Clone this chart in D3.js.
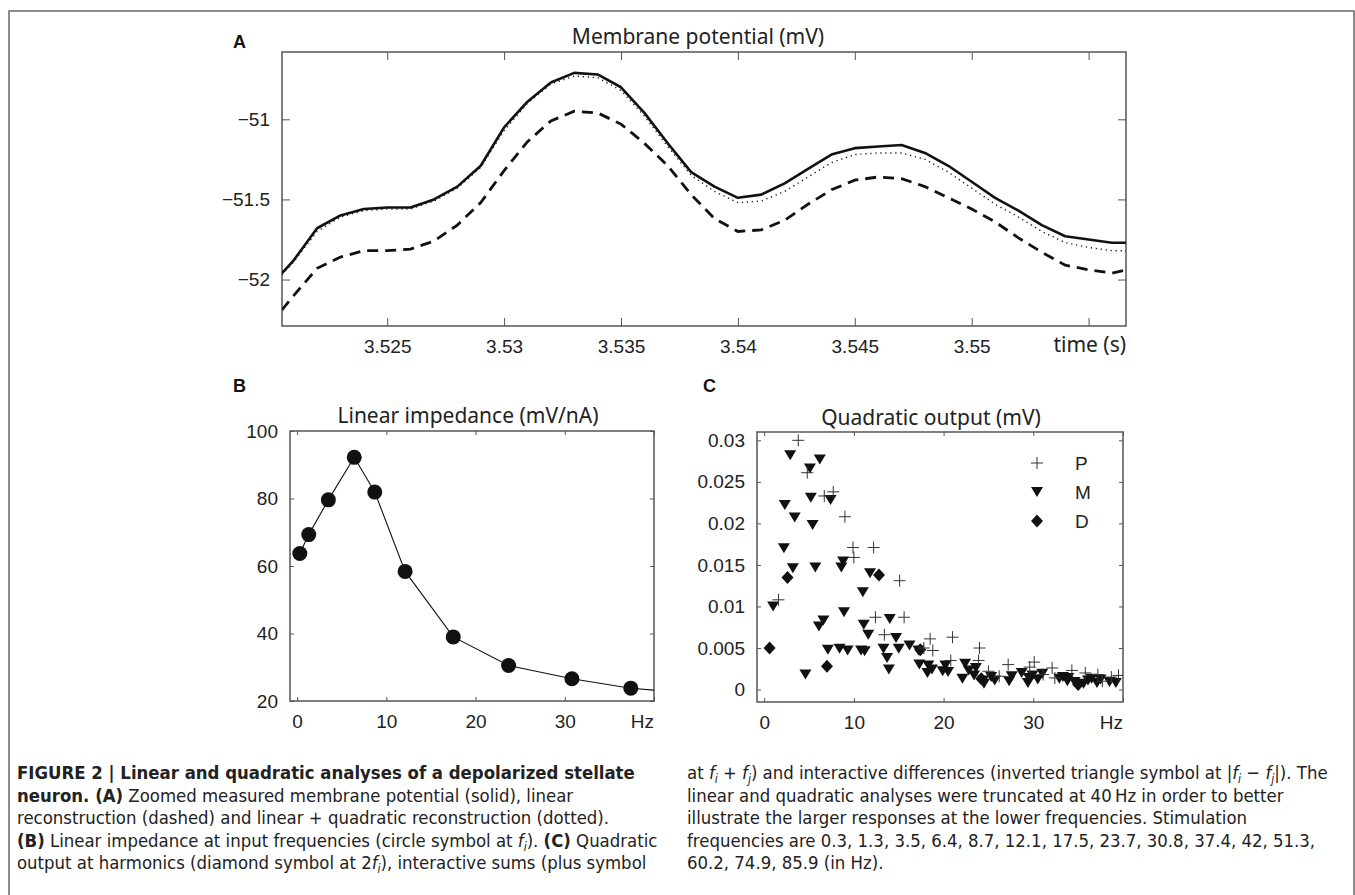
<!DOCTYPE html>
<html>
<head>
<meta charset="utf-8">
<script src="https://cdn.jsdelivr.net/npm/d3@7"></script>
<style>
  body { margin: 0; background: #fff; }
  .tick text { font-family: "Liberation Sans", Arial, sans-serif; font-size: 19px; fill: #222; }
  .tick line { stroke: #555; }
  .domain { display: none; }
  .ptitle { font-family: "Noto Sans", "Open Sans", sans-serif; font-size: 21px; fill: #222; }
  .letter { font-family: "Liberation Sans", Arial, sans-serif; font-size: 18px; font-weight: bold; fill: #111; }
  .cap { font-family: "Liberation Sans Narrow", "DejaVu Sans Condensed", sans-serif; font-stretch: condensed; font-size: 18.4px; fill: #222; }
</style>
</head>
<body>
<div id="chart"></div>
<script>
// Panel A: membrane potential traces (mV) against time (s)
var timeA = [3.5205, 3.521, 3.522, 3.523, 3.524, 3.525, 3.526, 3.527, 3.528, 3.529,
    3.530, 3.531, 3.532, 3.533, 3.534, 3.535, 3.536, 3.537, 3.538, 3.539,
    3.540, 3.541, 3.542, 3.543, 3.544, 3.545, 3.546, 3.547, 3.548, 3.549,
    3.550, 3.551, 3.552, 3.553, 3.554, 3.555, 3.556, 3.5566];
var measuredA = [-51.96, -51.88, -51.68, -51.60, -51.56, -51.55, -51.55, -51.50, -51.42, -51.29,
    -51.05, -50.89, -50.77, -50.71, -50.72, -50.80, -50.96, -51.15, -51.33, -51.42,
    -51.49, -51.47, -51.40, -51.31, -51.22, -51.18, -51.17, -51.16, -51.21, -51.29,
    -51.39, -51.49, -51.57, -51.66, -51.73, -51.75, -51.77, -51.77];
var linearA = [-52.19, -52.10, -51.93, -51.86, -51.82, -51.82, -51.81, -51.76, -51.66, -51.52,
    -51.32, -51.14, -51.01, -50.95, -50.96, -51.03, -51.15, -51.29, -51.47, -51.62,
    -51.70, -51.69, -51.63, -51.53, -51.44, -51.38, -51.36, -51.37, -51.42, -51.49,
    -51.56, -51.64, -51.74, -51.83, -51.91, -51.94, -51.96, -51.94];
var quadraticA = [-51.97, -51.89, -51.70, -51.61, -51.57, -51.56, -51.56, -51.51, -51.43, -51.30,
    -51.07, -50.90, -50.78, -50.73, -50.74, -50.82, -50.98, -51.17, -51.35, -51.45,
    -51.52, -51.51, -51.45, -51.36, -51.27, -51.22, -51.21, -51.21, -51.25, -51.33,
    -51.43, -51.53, -51.61, -51.70, -51.77, -51.80, -51.82, -51.82];
var xTicksA = [3.525, 3.53, 3.535, 3.54, 3.545, 3.55, 3.555];
var xLabelsA = ["3.525", "3.53", "3.535", "3.54", "3.545", "3.55", ""];
var yTicksA = [-52, -51.5, -51];
var yLabelsA = ["\u221252", "\u221251.5", "\u221251"];

// Panel B: linear impedance (mV/nA) at the input frequencies (Hz)
var freqB = [0.3, 1.3, 3.5, 6.4, 8.7, 12.1, 17.5, 23.7, 30.8, 37.4, 42];
var impedanceB = [63.7, 69.3, 79.6, 92.2, 81.9, 58.4, 39.0, 30.5, 26.6, 23.8, 22.8];
var yTicksB = [20, 40, 60, 80, 100];

// Panel C: quadratic output (mV); P = sums, M = differences, D = harmonics
var freqP = [1.6, 3.8, 4.8, 6.7, 7.7, 9.0, 9.9, 10.0, 12.2, 12.4, 13.4, 15.1, 15.6, 17.8, 18.5, 18.8,
    20.8, 21.0, 23.9, 24.0, 25.0, 26.2, 27.2, 29.6, 30.1, 31.1, 32.1, 32.4, 34.3, 35.8, 37.2, 37.7, 38.7, 39.5];
var valueP = [0.0108, 0.0300, 0.0261, 0.0233, 0.0238, 0.0208, 0.0171, 0.0159, 0.0171, 0.0087, 0.0066, 0.0131, 0.0087, 0.0050, 0.0061, 0.0047,
    0.0035, 0.0063, 0.0035, 0.0050, 0.0022, 0.0016, 0.0030, 0.0027, 0.0033, 0.0018, 0.0026, 0.0014, 0.0023, 0.0020, 0.0018, 0.0010, 0.0015, 0.0017];
var freqM = [1.0, 2.2, 2.3, 2.9, 3.2, 3.4, 4.6, 5.1, 5.2, 5.4, 5.7, 6.1, 6.2, 6.6, 7.1, 7.4, 8.4, 8.6, 8.8, 8.9,
    9.3, 10.8, 11.0, 11.1, 11.2, 11.6, 11.8, 13.3, 13.7, 13.9, 14.0, 14.7, 15.0, 16.2, 17.2, 17.3, 18.2, 18.3,
    18.7, 19.9, 20.2, 20.5, 22.1, 22.4, 22.8, 23.4, 23.6, 24.4, 24.5, 25.3, 25.7, 27.3, 27.6, 28.7, 29.4, 29.5,
    29.9, 30.5, 31.0, 32.9, 33.3, 33.8, 33.9, 34.6, 35.6, 36.1, 36.5, 37.1, 37.5, 38.5, 39.2];
var valueM = [0.0100, 0.0170, 0.0222, 0.0282, 0.0146, 0.0207, 0.0018, 0.0266, 0.0231, 0.0198, 0.0147, 0.0076, 0.0277, 0.0083, 0.0048, 0.0228, 0.0049, 0.0147, 0.0154, 0.0093,
    0.0047, 0.0047, 0.0117, 0.0078, 0.0046, 0.0066, 0.0140, 0.0049, 0.0038, 0.0024, 0.0085, 0.0062, 0.0049, 0.0053, 0.0047, 0.0030, 0.0020, 0.0029,
    0.0024, 0.0022, 0.0029, 0.0021, 0.0013, 0.0031, 0.0023, 0.0017, 0.0026, 0.0011, 0.0007, 0.0015, 0.0011, 0.0010, 0.0016, 0.0020, 0.0008, 0.0014,
    0.0017, 0.0012, 0.0019, 0.0013, 0.0015, 0.0010, 0.0014, 0.0009, 0.0007, 0.0011, 0.0013, 0.0008, 0.0012, 0.0009, 0.0008];
var freqD = [0.6, 2.6, 7.0, 12.8, 17.4, 24.2, 35.0];
var valueD = [0.0050, 0.0135, 0.0028, 0.0138, 0.0048, 0.0013, 0.0006];
var yTicksC = [0, 0.005, 0.01, 0.015, 0.02, 0.025, 0.03];
var yLabelsC = ["0", "0.005", "0.01", "0.015", "0.02", "0.025", "0.03"];
var xTicksBC = [0, 10, 20, 30, 40];
var xLabelsBC = ["0", "10", "20", "30", ""];
var legendC = ["P", "M", "D"];

var svg = d3.select("#chart")
    .append("svg")
    .attr("width", 1355)
    .attr("height", 895);

// outer frame of the figure
svg.append("rect")
    .attr("x", 9).attr("y", 11)
    .attr("width", 1345).attr("height", 900)
    .attr("fill", "none")
    .attr("stroke", "#666")
    .attr("stroke-width", 1.5);

function makeAxes(g, x, y, w, h, tickLen, xt, xl, yt, yl, id) {
    g.append("clipPath").attr("id", id)
        .append("rect").attr("width", w).attr("height", h);

    g.append("g").attr("class", "xbot").attr("transform", "translate(0," + h + ")")
        .call(d3.axisBottom(x).tickValues(xt).tickSize(-tickLen).tickPadding(14)
            .tickFormat(function(d, i) { return xl[i]; }));
    g.append("g")
        .call(d3.axisTop(x).tickValues(xt).tickSize(-tickLen).tickFormat(""));
    g.append("g")
        .call(d3.axisLeft(y).tickValues(yt).tickSize(-tickLen).tickPadding(12)
            .tickFormat(function(d, i) { return yl[i]; }));
    g.append("g").attr("transform", "translate(" + w + ",0)")
        .call(d3.axisRight(y).tickValues(yt).tickSize(-tickLen).tickFormat(""));

    g.append("rect")
        .attr("width", w).attr("height", h)
        .attr("fill", "none")
        .attr("stroke", "#555")
        .attr("stroke-width", 1.5);
}

// ---------- Panel A ----------
var wA = 844, hA = 274;
var gA = svg.append("g").attr("transform", "translate(282,52)");
var xA = d3.scaleLinear().domain([3.5205, 3.5566]).range([0, wA]);
var yA = d3.scaleLinear().domain([-52.29, -50.58]).range([hA, 0]);
makeAxes(gA, xA, yA, wA, hA, 8, xTicksA, xLabelsA, yTicksA, yLabelsA, "clipA");

var lineA = function(vals) {
    return d3.line()
        .x(function(d, i) { return xA(timeA[i]); })
        .y(function(d) { return yA(d); })(vals);
};
var tracesA = gA.append("g").attr("clip-path", "url(#clipA)");
tracesA.append("path").attr("d", lineA(quadraticA))
    .attr("fill", "none").attr("stroke", "#111")
    .attr("stroke-width", 1.4).attr("stroke-dasharray", "1.2,3.8");
tracesA.append("path").attr("d", lineA(linearA))
    .attr("fill", "none").attr("stroke", "#111")
    .attr("stroke-width", 2.8).attr("stroke-dasharray", "11,7");
tracesA.append("path").attr("d", lineA(measuredA))
    .attr("fill", "none").attr("stroke", "#111")
    .attr("stroke-width", 2.6).attr("stroke-linejoin", "round");

gA.append("text").attr("class", "ptitle")
    .attr("x", wA / 2 - 6).attr("y", -8)
    .attr("text-anchor", "middle")
    .text("Membrane potential (mV)");
gA.append("text").attr("class", "ptitle")
    .attr("x", wA).attr("y", hA + 26)
    .attr("text-anchor", "end")
    .text("time (s)");
svg.append("text").attr("class", "letter").attr("x", 233).attr("y", 48).text("A");

// ---------- Panel B ----------
var wB = 364, hB = 270;
var gB = svg.append("g").attr("transform", "translate(290,431)");
var xB = d3.scaleLinear().domain([-0.8, 40]).range([0, wB]);
var yB = d3.scaleLinear().domain([20, 100]).range([hB, 0]);
makeAxes(gB, xB, yB, wB, hB, 4, xTicksBC, xLabelsBC, yTicksB, yTicksB, "clipB");

var plotB = gB.append("g").attr("clip-path", "url(#clipB)");
plotB.append("path")
    .attr("d", d3.line()
        .x(function(d, i) { return xB(freqB[i]); })
        .y(function(d) { return yB(d); })(impedanceB))
    .attr("fill", "none").attr("stroke", "#111").attr("stroke-width", 1.1);
plotB.selectAll(".dot")
    .data(impedanceB)
    .enter().append("circle")
    .attr("class", "dot")
    .attr("cx", function(d, i) { return xB(freqB[i]); })
    .attr("cy", function(d) { return yB(d); })
    .attr("r", 7.5)
    .attr("fill", "#111");

gB.append("text").attr("class", "ptitle")
    .attr("x", wB / 2 - 4).attr("y", -8)
    .attr("text-anchor", "middle")
    .text("Linear impedance (mV/nA)");
gB.select(".xbot").append("text")
    .attr("x", wB).attr("y", 14).attr("dy", "0.71em")
    .attr("text-anchor", "end")
    .style("font-family", "Liberation Sans, Arial, sans-serif")
    .style("font-size", "19px").attr("fill", "#222")
    .text("Hz");
svg.append("text").attr("class", "letter").attr("x", 233).attr("y", 392).text("B");

// ---------- Panel C ----------
var wC = 366, hC = 270;
var gC = svg.append("g").attr("transform", "translate(757,432)");
var xC = d3.scaleLinear().domain([-0.8, 40]).range([0, wC]);
var yC = d3.scaleLinear().domain([-0.0015, 0.031]).range([hC, 0]);
makeAxes(gC, xC, yC, wC, hC, 4, xTicksBC, xLabelsBC, yTicksC, yLabelsC, "clipC");

var plusPath = "M-6,0H6M0,-6V6";
var triPath = "M-6,-5L6,-5L0,5Z";
var diaPath = "M0,-6.5L6,0L0,6.5L-6,0Z";

var plotC = gC.append("g").attr("clip-path", "url(#clipC)");
plotC.selectAll(".tri")
    .data(valueM)
    .enter().append("path")
    .attr("class", "tri")
    .attr("d", triPath)
    .attr("transform", function(d, i) { return "translate(" + xC(freqM[i]) + "," + yC(d) + ")"; })
    .attr("fill", "#111");
plotC.selectAll(".dia")
    .data(valueD)
    .enter().append("path")
    .attr("class", "dia")
    .attr("d", diaPath)
    .attr("transform", function(d, i) { return "translate(" + xC(freqD[i]) + "," + yC(d) + ")"; })
    .attr("fill", "#111");
plotC.selectAll(".plus")
    .data(valueP)
    .enter().append("path")
    .attr("class", "plus")
    .attr("d", plusPath)
    .attr("transform", function(d, i) { return "translate(" + xC(freqP[i]) + "," + yC(d) + ")"; })
    .attr("fill", "none").attr("stroke", "#333").attr("stroke-width", 1);

// legend
var legendPaths = [plusPath, triPath, diaPath];
var legend = gC.selectAll(".leg")
    .data(legendC)
    .enter().append("g")
    .attr("class", "leg")
    .attr("transform", function(d, i) { return "translate(280," + (31 + i * 29) + ")"; });
legend.append("path")
    .attr("d", function(d, i) { return legendPaths[i]; })
    .attr("fill", function(d, i) { return i == 0 ? "none" : "#111"; })
    .attr("stroke", function(d, i) { return i == 0 ? "#333" : "none"; });
legend.append("text")
    .attr("x", 38).attr("y", 7)
    .style("font-family", "Liberation Sans, Arial, sans-serif")
    .style("font-size", "19px").attr("fill", "#222")
    .text(function(d) { return d; });

gC.append("text").attr("class", "ptitle")
    .attr("x", wC / 2 - 9).attr("y", -7)
    .attr("text-anchor", "middle")
    .text("Quadratic output (mV)");
gC.select(".xbot").append("text")
    .attr("x", wC).attr("y", 14).attr("dy", "0.71em")
    .attr("text-anchor", "end")
    .style("font-family", "Liberation Sans, Arial, sans-serif")
    .style("font-size", "19px").attr("fill", "#222")
    .text("Hz");
svg.append("text").attr("class", "letter").attr("x", 703).attr("y", 392).text("C");

// ---------- caption ----------
// segments: [text, style] with b = bold, i = italic, s = subscript
var capLeft = [
    [["FIGURE 2 | Linear and quadratic analyses of a depolarized stellate", "b"]],
    [["neuron. (A)", "b"], [" Zoomed measured membrane potential (solid), linear", ""]],
    [["reconstruction (dashed) and linear + quadratic reconstruction (dotted).", ""]],
    [["(B)", "b"], [" Linear impedance at input frequencies (circle symbol at ", ""], ["f", "i"], ["i", "s"],
        [").  ", ""], ["(C)", "b"], [" Quadratic", ""]],
    [["output at harmonics (diamond symbol at 2", ""], ["f", "i"], ["i", "s"],
        ["), interactive sums (plus symbol", ""]]
];
var capRight = [
    [["at ", ""], ["f", "i"], ["i", "s"], [" + ", ""], ["f", "i"], ["j", "s"],
        [") and interactive differences (inverted triangle symbol at |", ""], ["f", "i"], ["i", "s"],
        [" \u2212 ", ""], ["f", "i"], ["j", "s"], ["|). The", ""]],
    [["linear and quadratic analyses were truncated at 40\u2009Hz in order to better", ""]],
    [["illustrate the larger responses at the lower frequencies. Stimulation", ""]],
    [["frequencies are 0.3, 1.3, 3.5, 6.4, 8.7, 12.1, 17.5, 23.7, 30.8, 37.4, 42, 51.3,", ""]],
    [["60.2, 74.9, 85.9 (in Hz).", ""]]
];

function drawCaption(lines, x0, y0) {
    lines.forEach(function(segs, li) {
        var t = svg.append("text").attr("class", "cap")
            .attr("x", x0).attr("y", y0 + li * 22.5);
        var shifted = false;
        segs.forEach(function(s) {
            var sp = t.append("tspan").text(s[0]);
            if (s[1] == "b") sp.attr("font-weight", "bold");
            if (s[1] == "i") sp.attr("font-style", "italic");
            if (s[1] == "s") {
                sp.attr("font-style", "italic").attr("font-size", "12px").attr("dy", 4);
                shifted = true;
            } else if (shifted) {
                sp.attr("dy", -4);
                shifted = false;
            }
        });
    });
}
drawCaption(capLeft, 17, 779);
drawCaption(capRight, 687, 779);
</script>
</body>
</html>
